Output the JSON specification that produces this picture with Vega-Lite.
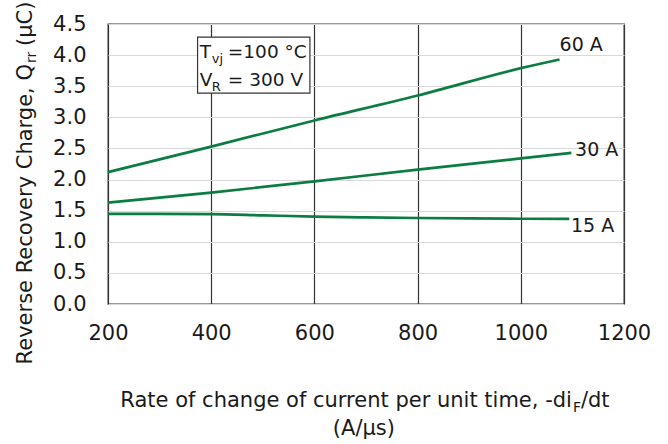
{
  "$schema": "https://vega.github.io/schema/vega-lite/v6.json",
  "description": "Reverse recovery charge vs -diF/dt at Tvj = 100 C, VR = 300 V",
  "width": 516,
  "height": 280,
  "autosize": {"type": "none"},
  "padding": {"left": 108, "top": 24, "right": 44, "bottom": 140},
  "config": {
    "view": {"stroke": "#333333", "strokeWidth": 1.3},
    "font": "DejaVu Sans",
    "text": {"font": "DejaVu Sans", "color": "#1a1a1a"}
  },
  "datasets": {
    "curves": [
      {"current": "60 A", "x": 200, "y": 2.12},
      {"current": "60 A", "x": 400, "y": 2.53},
      {"current": "60 A", "x": 600, "y": 2.95},
      {"current": "60 A", "x": 800, "y": 3.35},
      {"current": "60 A", "x": 1000, "y": 3.79},
      {"current": "60 A", "x": 1075, "y": 3.93},
      {"current": "30 A", "x": 200, "y": 1.63},
      {"current": "30 A", "x": 400, "y": 1.79},
      {"current": "30 A", "x": 600, "y": 1.97},
      {"current": "30 A", "x": 800, "y": 2.16},
      {"current": "30 A", "x": 1000, "y": 2.34},
      {"current": "30 A", "x": 1098, "y": 2.43},
      {"current": "15 A", "x": 200, "y": 1.45},
      {"current": "15 A", "x": 300, "y": 1.45},
      {"current": "15 A", "x": 400, "y": 1.445},
      {"current": "15 A", "x": 500, "y": 1.425},
      {"current": "15 A", "x": 600, "y": 1.405},
      {"current": "15 A", "x": 700, "y": 1.392},
      {"current": "15 A", "x": 800, "y": 1.382},
      {"current": "15 A", "x": 900, "y": 1.375},
      {"current": "15 A", "x": 1000, "y": 1.37},
      {"current": "15 A", "x": 1094, "y": 1.368}
    ],
    "labels": [
      {"text": "60 A", "x": 1117, "y": 4.16},
      {"text": "30 A", "x": 1147, "y": 2.48},
      {"text": "15 A", "x": 1139, "y": 1.25}
    ],
    "box": [{"x": 373.6, "x2": 591.3, "y": 4.29, "y2": 3.39}],
    "boxText": [
      {"main": "T", "sub": "vj", "rest": "=100 °C", "x": 378, "y": 3.954},
      {"main": "V", "sub": "R", "rest": "= 300 V", "x": 378, "y": 3.504}
    ],
    "yTitle": [{"main": "Reverse Recovery Charge, Q", "sub": "rr", "rest": "(µC)", "x": 52.7, "y": 3.857}],
    "xTitle": [{"main": "Rate of change of current per unit time, -di", "sub": "F", "rest": "/dt", "x": 1099, "y": -1.656}],
    "xTitle2": [{"text": "(A/µs)", "x": 696, "y": -2.106}]
  },
  "encoding": {
    "x": {
      "field": "x",
      "type": "quantitative",
      "scale": {"domain": [200, 1200], "nice": false, "zero": false},
      "axis": {
        "title": null,
        "values": [200, 400, 600, 800, 1000, 1200],
        "format": "d",
        "grid": true,
        "gridColor": "#333333",
        "gridWidth": 1.2,
        "domain": false,
        "ticks": false,
        "tickSize": 0,
        "labelPadding": 18,
        "labelFontSize": 21,
        "labelColor": "#1a1a1a",
        "labelFont": "DejaVu Sans",
        "labelFlush": false,
        "labelOverlap": false,
        "labelBound": false
      }
    },
    "y": {
      "field": "y",
      "type": "quantitative",
      "scale": {"domain": [0, 4.5], "nice": false},
      "axis": {
        "title": null,
        "values": [0, 0.5, 1, 1.5, 2, 2.5, 3, 3.5, 4, 4.5],
        "format": ".1f",
        "grid": true,
        "gridColor": "#d9d9d9",
        "gridWidth": 1.2,
        "domain": false,
        "ticks": false,
        "tickSize": 0,
        "labelPadding": 22,
        "labelFontSize": 21,
        "labelColor": "#1a1a1a",
        "labelFont": "DejaVu Sans",
        "labelOverlap": false,
        "labelBound": false
      }
    }
  },
  "layer": [
    {
      "data": {"name": "curves"},
      "mark": {"type": "line", "color": "#0c7d42", "strokeWidth": 2.7, "interpolate": "monotone"},
      "encoding": {"detail": {"field": "current"}}
    },
    {
      "data": {"name": "labels"},
      "mark": {"type": "text", "fontSize": 19, "align": "center", "baseline": "middle"},
      "encoding": {"text": {"field": "text"}}
    },
    {
      "data": {"name": "box"},
      "mark": {"type": "rect", "fill": "white", "stroke": "#333333", "strokeWidth": 1.2},
      "encoding": {"x2": {"field": "x2"}, "y2": {"field": "y2"}}
    },
    {
      "data": {"name": "boxText"},
      "mark": {"type": "text", "fontSize": 18.5, "align": "left", "baseline": "alphabetic"},
      "encoding": {"text": {"field": "main"}}
    },
    {
      "data": {"name": "boxText"},
      "mark": {"type": "text", "fontSize": 13, "align": "left", "baseline": "alphabetic", "dx": 12, "dy": 5},
      "encoding": {"text": {"field": "sub"}}
    },
    {
      "data": {"name": "boxText"},
      "mark": {"type": "text", "fontSize": 18.5, "align": "left", "baseline": "alphabetic", "dx": 28},
      "encoding": {"text": {"field": "rest"}}
    },
    {
      "data": {"name": "yTitle"},
      "mark": {"type": "text", "fontSize": 21, "angle": 270, "align": "right", "baseline": "alphabetic"},
      "encoding": {"text": {"field": "main"}}
    },
    {
      "data": {"name": "yTitle"},
      "mark": {"type": "text", "fontSize": 14, "angle": 270, "align": "left", "baseline": "alphabetic", "dx": 1, "dy": 4},
      "encoding": {"text": {"field": "sub"}}
    },
    {
      "data": {"name": "yTitle"},
      "mark": {"type": "text", "fontSize": 21, "angle": 270, "align": "left", "baseline": "alphabetic", "dx": 18},
      "encoding": {"text": {"field": "rest"}}
    },
    {
      "data": {"name": "xTitle"},
      "mark": {"type": "text", "fontSize": 21, "align": "right", "baseline": "alphabetic"},
      "encoding": {"text": {"field": "main"}}
    },
    {
      "data": {"name": "xTitle"},
      "mark": {"type": "text", "fontSize": 14, "align": "left", "baseline": "alphabetic", "dx": 1, "dy": 5},
      "encoding": {"text": {"field": "sub"}}
    },
    {
      "data": {"name": "xTitle"},
      "mark": {"type": "text", "fontSize": 21, "align": "left", "baseline": "alphabetic", "dx": 9},
      "encoding": {"text": {"field": "rest"}}
    },
    {
      "data": {"name": "xTitle2"},
      "mark": {"type": "text", "fontSize": 21, "align": "center", "baseline": "alphabetic"},
      "encoding": {"text": {"field": "text"}}
    }
  ]
}
